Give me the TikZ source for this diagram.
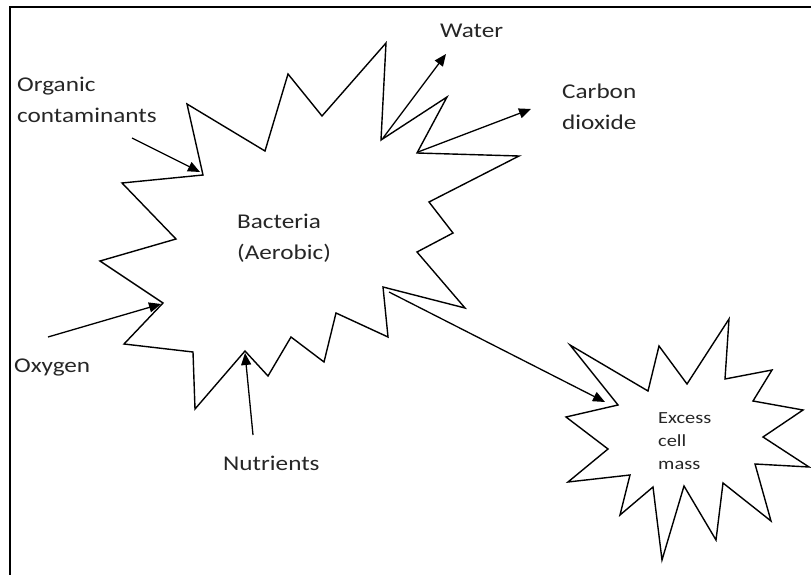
\documentclass[tikz,border=0pt]{standalone}
\usepackage{fontspec}
\setmainfont{Carlito}[FakeStretch=1.2]
\usetikzlibrary{arrows.meta}
\tikzset{
  starline/.style={draw=black,line width=1.4pt,line join=miter},
  flow/.style={draw=black,line width=1.3pt,-{Triangle[length=12pt,width=10pt]}},
  biglabel/.style={anchor=base west,inner sep=0pt,font=\fontsize{21}{31}\selectfont,align=left,text=black!85},
  smalllabel/.style={anchor=base west,inner sep=0pt,font=\fontsize{17}{23}\selectfont,align=left,text=black!85},
  frameline/.style={draw=black,line width=2pt}
}
\begin{document}
\begin{tikzpicture}[x=1pt,y=-1pt]
\useasboundingbox (0,0) rectangle (811,575);
% frame (top and left edges)
\draw[frameline] (10,575) -- (10,7) -- (811,7);
% big star (Bacteria)
\coordinate (vOrg) at (203,175);
\coordinate (vWat) at (381,140);
\coordinate (vCO) at (417,153);
\coordinate (vExc) at (383,287);
\coordinate (vNut) at (245,351);
\coordinate (vOxy) at (163,303);
\draw[starline] (122,183) -- (vOrg) -- (187,104) -- (265,151) -- (288,74) -- (322,116)
  -- (386,43) -- (vWat) -- (447,97) -- (vCO) -- (519,156) -- (429,202) -- (453,233)
  -- (417,252) -- (465,308) -- (vExc) -- (388,337) -- (336,313) -- (324,362)
  -- (291,337) -- (268,376) -- (vNut) -- (195,409) -- (193,352) -- (124,344)
  -- (vOxy) -- (100,261) -- (176,239) -- cycle;
% small star (Excess cell mass)
\coordinate (sIn) at (618,405);
\draw[starline] (570,345) -- (648,391) -- (659,346) -- (687,384) -- (729,319)
  -- (725,379) -- (772,370) -- (753,401) -- (803,410) -- (763,437) -- (809,467)
  -- (755,464) -- (771,521) -- (723,483) -- (716,540) -- (684,486) -- (662,560)
  -- (653,487) -- (620,515) -- (630,475) -- (568,482) -- (608,449) -- (566,417)
  -- (sIn) -- cycle;
% labels (base anchor = baseline of last line)
\node[biglabel] (org) at (17,123) {Organic\\contaminants};
\node[biglabel] (wat) at (440,38) {Water};
\node[biglabel] (co2) at (562,130) {Carbon\\dioxide};
\node[biglabel] (bac) at (237,259) {Bacteria\\(Aerobic)};
\node[biglabel] (oxy) at (14,372) {Oxygen};
\node[biglabel] (nut) at (223,470) {Nutrients};
\node[smalllabel] (exc) at (658,469) {Excess\\cell\\mass};
% arrow free ends
\coordinate (aOrg) at (132,138);
\coordinate (eOrg) at (200,172);
\coordinate (aOxy) at (48,337);
\coordinate (eOxy) at (161,304);
\coordinate (aNut) at (253,435);
\coordinate (eNut) at (245,353);
\coordinate (aWat) at (383,138);
\coordinate (eWat) at (446,54);
\coordinate (aCO) at (418,152);
\coordinate (eCO) at (531,109);
\coordinate (aExc) at (389,292);
\coordinate (eExc) at (605,402);
\draw[flow] (aOrg) -- (eOrg);
\draw[flow] (aOxy) -- (eOxy);
\draw[flow] (aNut) -- (eNut);
\draw[flow] (aWat) -- (eWat);
\draw[flow] (aCO) -- (eCO);
\draw[flow] (aExc) -- (eExc);
\end{tikzpicture}
\end{document}
